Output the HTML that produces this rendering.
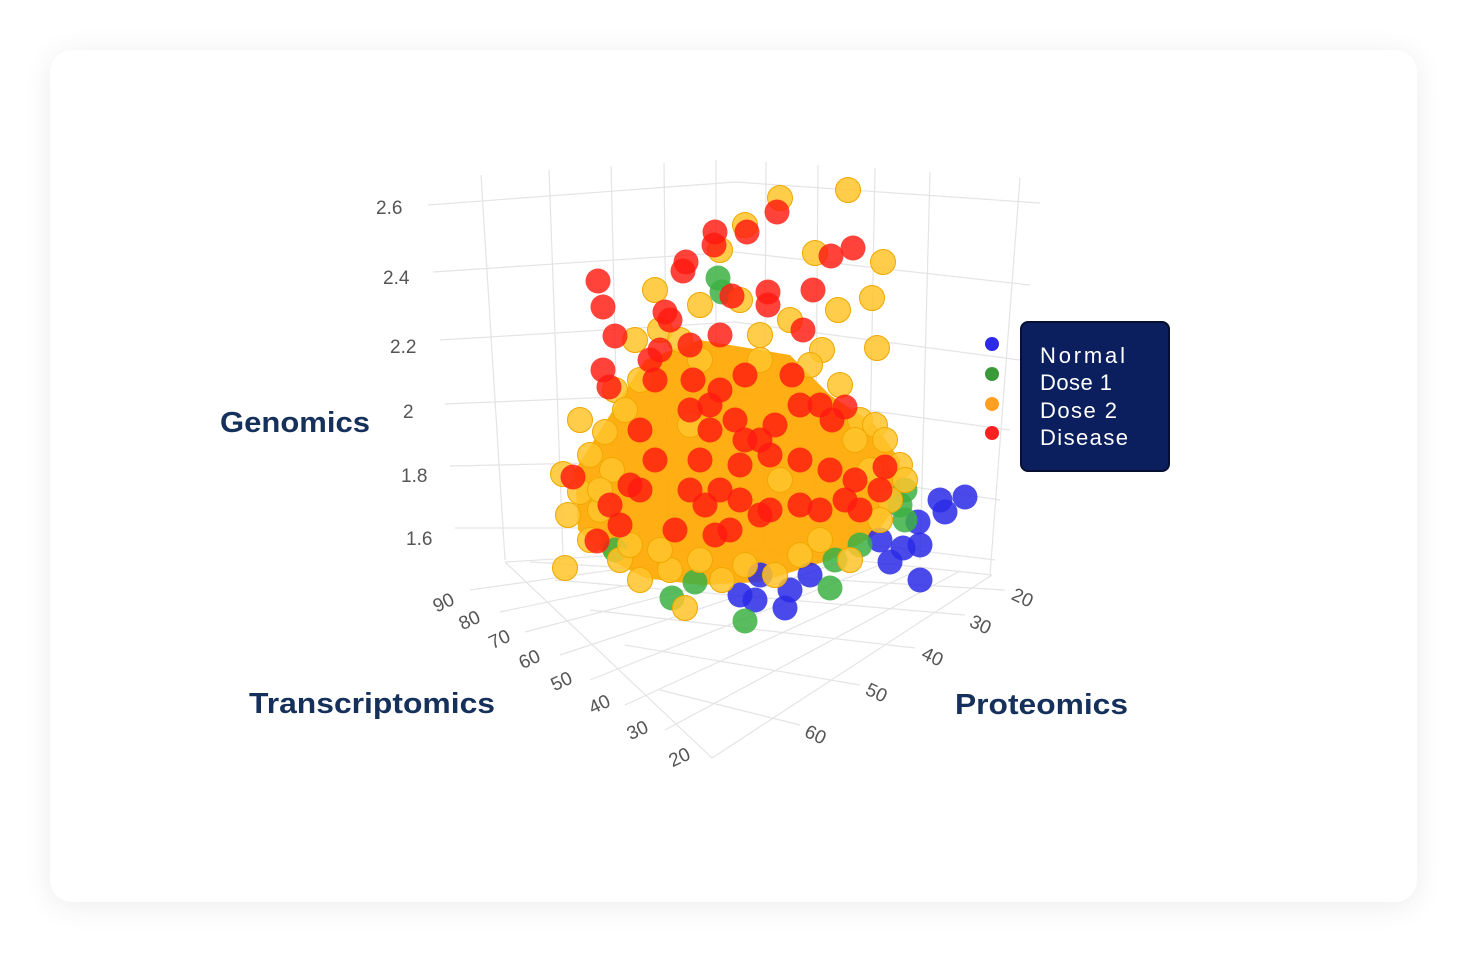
<!DOCTYPE html>
<html><head><meta charset="utf-8"><style>
html,body{margin:0;padding:0;background:#fff;width:1477px;height:962px;overflow:hidden}
.card{position:absolute;left:50px;top:50px;width:1367px;height:852px;background:#fff;border-radius:22px;box-shadow:0 4px 30px rgba(0,0,0,0.08)}
svg{position:absolute;left:0;top:0}
text{font-family:"Liberation Sans",sans-serif}
</style></head><body>
<div class="card"></div>
<svg width="1477" height="962" viewBox="0 0 1477 962">
<g stroke="#e4e4e4" stroke-width="1.2" fill="none">
<line x1="428" y1="205" x2="735" y2="182"/>
<line x1="433" y1="272" x2="735" y2="252"/>
<line x1="440" y1="340" x2="735" y2="322"/>
<line x1="445" y1="404" x2="735" y2="392"/>
<line x1="450" y1="466" x2="735" y2="460"/>
<line x1="455" y1="528" x2="735" y2="528"/>
<line x1="735" y1="182" x2="1040" y2="203"/>
<line x1="735" y1="252" x2="1030" y2="285"/>
<line x1="735" y1="322" x2="1020" y2="360"/>
<line x1="735" y1="392" x2="1010" y2="430"/>
<line x1="735" y1="460" x2="1000" y2="500"/>
<line x1="735" y1="528" x2="995" y2="560"/>
<line x1="481" y1="175" x2="505" y2="560"/>
<line x1="549" y1="170" x2="563" y2="555"/>
<line x1="611" y1="166" x2="620" y2="552"/>
<line x1="664" y1="163" x2="668" y2="550"/>
<line x1="716" y1="160" x2="716" y2="548"/>
<line x1="766" y1="162" x2="764" y2="548"/>
<line x1="818" y1="165" x2="815" y2="552"/>
<line x1="875" y1="168" x2="868" y2="556"/>
<line x1="930" y1="172" x2="920" y2="560"/>
<line x1="1020" y1="178" x2="990" y2="575"/>
<line x1="505" y1="562" x2="740" y2="548"/>
<line x1="740" y1="548" x2="992" y2="575"/>
<line x1="505" y1="562" x2="712" y2="758"/>
<line x1="992" y1="575" x2="712" y2="758"/>
<line x1="470" y1="590" x2="755" y2="550"/>
<line x1="500" y1="612" x2="785" y2="552"/>
<line x1="525" y1="632" x2="815" y2="556"/>
<line x1="560" y1="655" x2="850" y2="559"/>
<line x1="590" y1="680" x2="885" y2="563"/>
<line x1="625" y1="705" x2="925" y2="567"/>
<line x1="665" y1="730" x2="960" y2="571"/>
<line x1="1005" y1="590" x2="530" y2="562"/>
<line x1="965" y1="615" x2="555" y2="580"/>
<line x1="915" y1="648" x2="590" y2="610"/>
<line x1="860" y1="685" x2="625" y2="645"/>
<line x1="800" y1="725" x2="660" y2="690"/>
</g>
<g fill="#555" font-size="19">
<text x="376" y="214">2.6</text><text x="383" y="284">2.4</text><text x="390" y="353">2.2</text>
<text x="403" y="418">2</text><text x="401" y="482">1.8</text><text x="406" y="545">1.6</text>
<text x="432" y="608" transform="rotate(-25 445 600)">90</text>
<text x="458" y="626" transform="rotate(-25 470 618)">80</text>
<text x="488" y="645" transform="rotate(-25 500 637)">70</text>
<text x="518" y="665" transform="rotate(-25 530 657)">60</text>
<text x="550" y="687" transform="rotate(-25 562 679)">50</text>
<text x="588" y="710" transform="rotate(-25 600 702)">40</text>
<text x="626" y="736" transform="rotate(-25 638 728)">30</text>
<text x="668" y="763" transform="rotate(-25 680 755)">20</text>
<text x="1012" y="605" transform="rotate(25 1025 598)">20</text>
<text x="970" y="632" transform="rotate(25 983 625)">30</text>
<text x="922" y="664" transform="rotate(25 935 657)">40</text>
<text x="866" y="700" transform="rotate(25 879 693)">50</text>
<text x="805" y="742" transform="rotate(25 818 735)">60</text>
</g>
<polygon points="575,470 610,415 645,360 700,340 790,355 830,395 875,425 900,460 900,500 875,535 830,560 760,582 700,585 645,578 610,560 578,530" fill="#ffa800" opacity="0.92"/>
<g fill="#2a2ae8" fill-opacity="0.85">
<circle cx="940" cy="500" r="12.5"/><circle cx="965" cy="497" r="12.5"/><circle cx="945" cy="512" r="12.5"/><circle cx="918" cy="522" r="12.5"/><circle cx="920" cy="545" r="12.5"/><circle cx="903" cy="548" r="12.5"/><circle cx="890" cy="562" r="12.5"/><circle cx="920" cy="580" r="12.5"/><circle cx="810" cy="575" r="12.5"/><circle cx="790" cy="590" r="12.5"/><circle cx="760" cy="575" r="12.5"/><circle cx="740" cy="595" r="12.5"/><circle cx="755" cy="600" r="12.5"/><circle cx="785" cy="608" r="12.5"/><circle cx="880" cy="540" r="12.5"/>
</g>
<g fill="#3cb043" fill-opacity="0.85">
<circle cx="718" cy="278" r="12.5"/><circle cx="722" cy="292" r="12.5"/><circle cx="905" cy="490" r="12.5"/><circle cx="905" cy="520" r="12.5"/><circle cx="860" cy="545" r="12.5"/><circle cx="830" cy="588" r="12.5"/><circle cx="745" cy="621" r="12.5"/><circle cx="695" cy="582" r="12.5"/><circle cx="672" cy="598" r="12.5"/><circle cx="615" cy="550" r="12.5"/><circle cx="900" cy="505" r="12.5"/><circle cx="835" cy="560" r="12.5"/>
</g>
<g fill="#ffc42a" fill-opacity="0.85" stroke="#f0a800" stroke-width="1">
<circle cx="580" cy="420" r="12.5"/><circle cx="563" cy="474" r="12.5"/><circle cx="568" cy="515" r="12.5"/><circle cx="565" cy="568" r="12.5"/><circle cx="605" cy="432" r="12.5"/><circle cx="612" cy="470" r="12.5"/><circle cx="580" cy="492" r="12.5"/><circle cx="655" cy="290" r="12.5"/><circle cx="660" cy="330" r="12.5"/><circle cx="700" cy="305" r="12.5"/><circle cx="720" cy="250" r="12.5"/><circle cx="745" cy="225" r="12.5"/><circle cx="780" cy="198" r="12.5"/><circle cx="848" cy="190" r="12.5"/><circle cx="815" cy="253" r="12.5"/><circle cx="883" cy="262" r="12.5"/><circle cx="872" cy="298" r="12.5"/><circle cx="838" cy="310" r="12.5"/><circle cx="877" cy="348" r="12.5"/><circle cx="822" cy="350" r="12.5"/><circle cx="860" cy="420" r="12.5"/><circle cx="900" cy="465" r="12.5"/><circle cx="905" cy="480" r="12.5"/><circle cx="875" cy="425" r="12.5"/><circle cx="685" cy="608" r="12.5"/><circle cx="722" cy="580" r="12.5"/><circle cx="640" cy="580" r="12.5"/><circle cx="620" cy="560" r="12.5"/><circle cx="600" cy="510" r="12.5"/><circle cx="615" cy="390" r="12.5"/><circle cx="640" cy="380" r="12.5"/><circle cx="700" cy="360" r="12.5"/><circle cx="760" cy="335" r="12.5"/><circle cx="790" cy="320" r="12.5"/><circle cx="740" cy="300" r="12.5"/><circle cx="840" cy="385" r="12.5"/><circle cx="870" cy="470" r="12.5"/><circle cx="850" cy="560" r="12.5"/><circle cx="800" cy="555" r="12.5"/><circle cx="745" cy="565" r="12.5"/><circle cx="670" cy="570" r="12.5"/><circle cx="635" cy="340" r="12.5"/><circle cx="690" cy="425" r="12.5"/><circle cx="780" cy="480" r="12.5"/><circle cx="590" cy="455" r="12.5"/><circle cx="660" cy="550" r="12.5"/><circle cx="700" cy="560" r="12.5"/><circle cx="820" cy="540" r="12.5"/><circle cx="885" cy="440" r="12.5"/><circle cx="760" cy="360" r="12.5"/>
<circle cx="625" cy="410" r="12.5"/><circle cx="590" cy="540" r="12.5"/><circle cx="630" cy="545" r="12.5"/><circle cx="890" cy="500" r="12.5"/><circle cx="880" cy="520" r="12.5"/><circle cx="810" cy="365" r="12.5"/><circle cx="680" cy="340" r="12.5"/><circle cx="775" cy="575" r="12.5"/><circle cx="600" cy="490" r="12.5"/><circle cx="855" cy="440" r="12.5"/>
</g>
<g fill="#ff1a10" fill-opacity="0.82">
<circle cx="598" cy="281" r="12.5"/><circle cx="603" cy="307" r="12.5"/><circle cx="615" cy="336" r="12.5"/><circle cx="603" cy="370" r="12.5"/><circle cx="609" cy="387" r="12.5"/><circle cx="573" cy="477" r="12.5"/><circle cx="597" cy="541" r="12.5"/><circle cx="715" cy="232" r="12.5"/><circle cx="714" cy="245" r="12.5"/><circle cx="747" cy="232" r="12.5"/><circle cx="777" cy="212" r="12.5"/><circle cx="686" cy="262" r="12.5"/><circle cx="683" cy="271" r="12.5"/><circle cx="732" cy="296" r="12.5"/><circle cx="768" cy="292" r="12.5"/><circle cx="768" cy="305" r="12.5"/><circle cx="813" cy="290" r="12.5"/><circle cx="831" cy="256" r="12.5"/><circle cx="853" cy="248" r="12.5"/><circle cx="803" cy="330" r="12.5"/><circle cx="665" cy="312" r="12.5"/><circle cx="670" cy="320" r="12.5"/><circle cx="660" cy="350" r="12.5"/><circle cx="690" cy="345" r="12.5"/><circle cx="720" cy="335" r="12.5"/><circle cx="650" cy="360" r="12.5"/><circle cx="655" cy="380" r="12.5"/><circle cx="693" cy="380" r="12.5"/><circle cx="720" cy="390" r="12.5"/><circle cx="745" cy="375" r="12.5"/><circle cx="775" cy="425" r="12.5"/><circle cx="792" cy="375" r="12.5"/><circle cx="800" cy="405" r="12.5"/><circle cx="820" cy="405" r="12.5"/><circle cx="845" cy="407" r="12.5"/><circle cx="832" cy="420" r="12.5"/><circle cx="640" cy="430" r="12.5"/><circle cx="655" cy="460" r="12.5"/><circle cx="630" cy="485" r="12.5"/><circle cx="690" cy="410" r="12.5"/><circle cx="710" cy="430" r="12.5"/><circle cx="735" cy="420" r="12.5"/><circle cx="760" cy="440" r="12.5"/><circle cx="700" cy="460" r="12.5"/><circle cx="740" cy="465" r="12.5"/><circle cx="770" cy="455" r="12.5"/><circle cx="800" cy="460" r="12.5"/><circle cx="830" cy="470" r="12.5"/><circle cx="855" cy="480" r="12.5"/><circle cx="885" cy="467" r="12.5"/><circle cx="690" cy="490" r="12.5"/><circle cx="720" cy="490" r="12.5"/><circle cx="740" cy="500" r="12.5"/><circle cx="770" cy="510" r="12.5"/><circle cx="800" cy="505" r="12.5"/><circle cx="820" cy="510" r="12.5"/><circle cx="845" cy="500" r="12.5"/><circle cx="620" cy="525" r="12.5"/><circle cx="675" cy="530" r="12.5"/><circle cx="715" cy="535" r="12.5"/><circle cx="760" cy="515" r="12.5"/><circle cx="640" cy="490" r="12.5"/><circle cx="610" cy="505" r="12.5"/><circle cx="705" cy="505" r="12.5"/><circle cx="730" cy="530" r="12.5"/><circle cx="860" cy="510" r="12.5"/><circle cx="880" cy="490" r="12.5"/><circle cx="710" cy="405" r="12.5"/><circle cx="745" cy="440" r="12.5"/>
</g>
<g fill="#15305a" font-weight="bold" font-size="29">
<text x="220" y="432" textLength="150" lengthAdjust="spacingAndGlyphs">Genomics</text>
<text x="249" y="713" textLength="246" lengthAdjust="spacingAndGlyphs">Transcriptomics</text>
<text x="955" y="714" textLength="173" lengthAdjust="spacingAndGlyphs">Proteomics</text>
</g>
<circle cx="992" cy="344" r="7" fill="#2a2ae8"/>
<circle cx="992" cy="374" r="7" fill="#3a9a3a"/>
<circle cx="992" cy="404" r="7" fill="#ffa020"/>
<circle cx="992" cy="433" r="7" fill="#ff2020"/>
<rect x="1021" y="322" width="148" height="149" rx="7" fill="#0b1f5e" stroke="#071030" stroke-width="2"/>
<g fill="#fff" font-size="22">
<text x="1040" y="363" textLength="85">Normal</text>
<text x="1040" y="390" textLength="72">Dose 1</text>
<text x="1040" y="418" textLength="77">Dose 2</text>
<text x="1040" y="445" textLength="88">Disease</text>
</g>
</svg>
</body></html>
